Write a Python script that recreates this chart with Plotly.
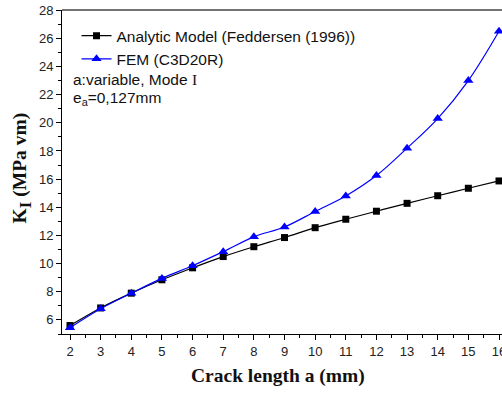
import plotly.graph_objects as go

# Crack length a (mm)
crack_length = [2, 3, 4, 5, 6, 7, 8, 9, 10, 11, 12, 13, 14, 15, 16]

# Stress intensity factor K_I (MPa vm)
k_analytic = [5.6, 6.85, 7.9, 8.85, 9.7, 10.5, 11.2, 11.85, 12.55, 13.15, 13.72, 14.28, 14.82, 15.35, 15.87]
k_fem = [5.45, 6.8, 7.9, 8.95, 9.85, 10.85, 11.9, 12.6, 13.7, 14.8, 16.25, 18.2, 20.3, 23.0, 26.5]

x_ticks = list(range(2, 17))
y_ticks = list(range(6, 29, 2))

fig = go.Figure()

fig.add_trace(go.Scatter(
    x=crack_length, y=k_analytic, mode="lines+markers",
    name="Analytic Model (Feddersen (1996))",
    line=dict(color="black", width=1.2, shape="spline"),
    marker=dict(symbol="square", size=7, color="black"),
))
fig.add_trace(go.Scatter(
    x=crack_length, y=k_fem, mode="lines+markers",
    name="FEM (C3D20R)",
    line=dict(color="blue", width=1.2, shape="spline"),
    marker=dict(symbol="triangle-up", size=9, color="blue"),
))

axis_font = dict(family="Liberation Sans, Arial, sans-serif", size=13, color="#222")
text_font = dict(family="Liberation Sans, Arial, sans-serif", size=15.5, color="#111")

fig.update_layout(
    width=502, height=394,
    margin=dict(l=62, r=0, t=10, b=60, autoexpand=False),
    paper_bgcolor="white", plot_bgcolor="white",
    showlegend=True,
    legend=dict(
        x=0.033, y=0.972, xanchor="left", yanchor="top",
        bgcolor="rgba(0,0,0,0)", borderwidth=0,
        font=text_font,
        tracegroupgap=0, itemwidth=30,
    ),
    xaxis=dict(
        range=[1.739, 16.098], tickvals=x_ticks, ticktext=[str(v) for v in x_ticks],
        showgrid=False, zeroline=False, showline=True, linecolor="black", linewidth=1,
        ticks="outside", ticklen=5, tickcolor="black", tickwidth=1,
        tickfont=axis_font, ticklabeloverflow="allow", automargin=False,
        minor=dict(dtick=0.5, tick0=2, ticks="outside", ticklen=3, tickcolor="black", showgrid=False),
    ),
    yaxis=dict(
        range=[5.0, 28.01], tickvals=y_ticks, ticktext=[str(v) for v in y_ticks],
        showgrid=False, zeroline=False, showline=True, linecolor="black", linewidth=1,
        ticks="outside", ticklen=5, tickcolor="black", tickwidth=1,
        tickfont=axis_font, ticklabeloverflow="allow", automargin=False,
        minor=dict(dtick=1, tick0=5, ticks="outside", ticklen=3, tickcolor="black", showgrid=False),
    ),
)

# Top frame line
fig.add_shape(type="line", xref="paper", yref="paper", x0=0, x1=1, y0=1, y1=1,
              line=dict(color="#444", width=1.5))

fig.add_annotation(
    text='a:variable, Mode <span style="font-family:Liberation Serif, Times New Roman, serif">I</span>',
    xref="paper", yref="paper",
    x=0.02, y=0.787, xanchor="left", yanchor="middle", showarrow=False,
    font=text_font,
)
fig.add_annotation(
    text="e<sub>a</sub>=0,127mm", xref="paper", yref="paper",
    x=0.02, y=0.728, xanchor="left", yanchor="middle", showarrow=False,
    font=text_font,
)

title_font = dict(family="Liberation Serif, Times New Roman, serif", size=19.5, color="#111")
fig.add_annotation(
    text="<b>Crack length a (mm)</b>", xref="paper", yref="paper",
    x=0.49, y=-0.13, xanchor="center", yanchor="middle", showarrow=False,
    font=title_font,
)
fig.add_annotation(
    text='<b>K<sub><span style="font-size:17px">I</span></sub> (MPa vm)</b>',
    xref="paper", yref="paper",
    x=-0.091, y=0.514, xanchor="center", yanchor="middle", showarrow=False,
    textangle=-90, font=title_font,
)

fig.write_html("out.html")
